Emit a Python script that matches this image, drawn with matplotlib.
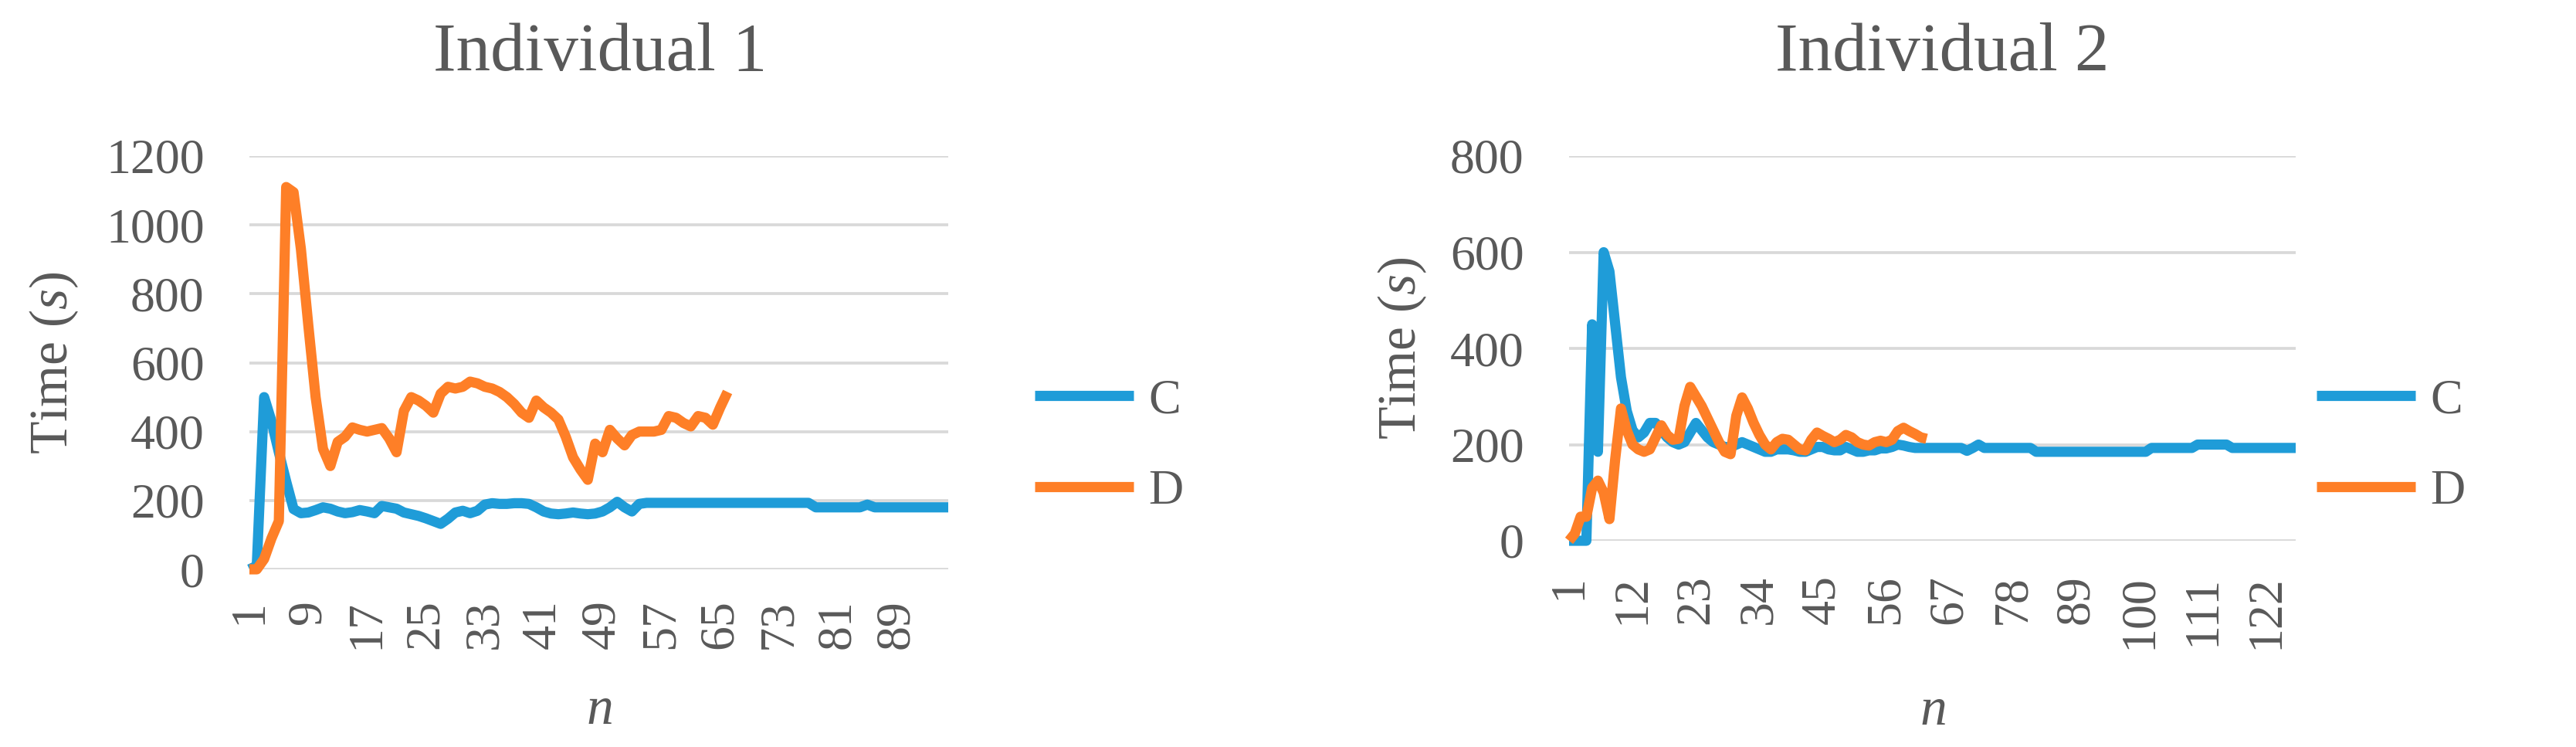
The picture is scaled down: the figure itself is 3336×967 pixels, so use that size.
"""
Two Excel-style line charts: time per trial n for condition C and D.
"""

import matplotlib

matplotlib.use("Agg")
import matplotlib.pyplot as plt
import numpy as np

plt.rcParams["font.family"] = ["Liberation Serif", "DejaVu Serif"]
plt.rcParams["mathtext.fontset"] = "custom"
plt.rcParams["mathtext.rm"] = "Liberation Serif"
plt.rcParams["mathtext.it"] = "Liberation Serif:italic"

TEXT = "#595959"
GRID = "#d9d9d9"
BLUE = "#1f9cd8"
ORANGE = "#fe7f27"

# Individual 1
ind1_c = [
    0, 10, 500, 430, 340, 255, 175, 163, 165, 172,
    180, 176, 168, 163, 166, 172, 168, 163, 184, 180,
    176, 165, 160, 155, 148, 140, 132, 147, 165, 170,
    163, 170, 188, 192, 190, 190, 192, 192, 190, 180,
    168, 162, 160, 162, 165, 162, 160, 162, 168, 180,
    196, 180, 168, 190, 193, 193, 193, 193, 193, 193,
    193, 193, 193, 193, 193, 193, 193, 193, 193, 193,
    193, 193, 193, 193, 193, 193, 193, 180, 180, 180,
    180, 180, 180, 180, 188, 180, 180, 180, 180, 180,
    180, 180, 180, 180, 180, 180,
]
ind1_d = [
    0, 0, 30, 90, 140, 1110, 1095, 930, 710, 500,
    350, 300, 370, 385, 412, 405, 400, 405, 410, 380,
    340, 460, 500, 490, 475, 455, 510, 530, 525, 530,
    545, 540, 530, 525, 515, 500, 480, 455, 440, 490,
    470, 455, 435, 385, 325, 290, 260, 365, 340, 405,
    380, 360, 390, 400, 400, 400, 405, 445, 440, 425,
    415, 445, 440, 420, 470, 515,
]
ind1_ticks = list(range(1, 97, 8))

# Individual 2
ind2_c = [
    0, 0, 0, 0, 450, 185, 600, 560, 450, 340,
    270, 230, 215, 225, 245, 245, 230, 215, 205, 200,
    205, 225, 245, 230, 215, 205, 200, 195, 195, 200,
    205, 200, 195, 190, 185, 185, 190, 190, 190, 188,
    185, 185, 190, 195, 195, 190, 188, 188, 195, 190,
    185, 185, 188, 188, 192, 192, 195, 200, 198, 195,
    193, 193, 193, 193, 193, 193, 193, 193, 193, 187,
    193, 200, 193, 193, 193, 193, 193, 193, 193, 193,
    193, 185, 185, 185, 185, 185, 185, 185, 185, 185,
    185, 185, 185, 185, 185, 185, 185, 185, 185, 185,
    185, 193, 193, 193, 193, 193, 193, 193, 193, 200,
    200, 200, 200, 200, 200, 193, 193, 193, 193, 193,
    193, 193, 193, 193, 193, 193, 193,
]
ind2_d = [
    0, 15, 50, 50, 110, 125, 100, 45, 170, 275,
    230, 200, 190, 185, 190, 215, 240, 220, 210, 212,
    280, 320, 300, 280, 255, 230, 205, 185, 180, 260,
    298, 275, 245, 220, 200, 190, 205, 212, 210, 200,
    190, 188, 210, 225, 218, 212, 205, 210, 220, 215,
    205, 200, 198, 205, 208, 205, 210, 228, 235, 228,
    222, 215, 212,
]
ind2_ticks = list(range(1, 128, 11))

W, H = 3336, 967


def _panel(fig, box, c_vals, d_vals, ticks, ymax, title, title_x, legend_x,
           xpad, ylab_x, xlab_y):
    left, top, right, bottom = box
    ax = fig.add_axes([left / W, 1 - bottom / H, (right - left) / W, (bottom - top) / H])
    n_c = np.arange(1, len(c_vals) + 1)
    n_d = np.arange(1, len(d_vals) + 1)
    ax.plot(n_c, c_vals, color=BLUE, lw=9.5, label="C",
            solid_joinstyle="round", solid_capstyle="butt", clip_on=False, zorder=3)
    ax.plot(n_d, d_vals, color=ORANGE, lw=9.5, label="D",
            solid_joinstyle="round", solid_capstyle="butt", clip_on=False, zorder=4)

    ax.set_xlim(1, len(c_vals))
    ax.set_ylim(0, ymax)
    ax.set_yticks(np.arange(0, ymax + 1, 200))
    ax.set_xticks(ticks)
    ax.set_xticklabels([str(t) for t in ticks], rotation=90, va="top", ha="center")
    ax.grid(axis="y", color=GRID, lw=2.7)
    ax.set_axisbelow(True)
    for s in ax.spines.values():
        s.set_visible(False)
    ax.tick_params(axis="both", length=0, labelsize=46, colors=TEXT)
    ax.tick_params(axis="y", pad=42)
    ax.tick_params(axis="x", pad=xpad)

    ax.set_ylabel("Time ($s$)", fontsize=50, color=TEXT)
    ax.yaxis.set_label_coords(ylab_x, 0.5)
    ax.set_xlabel("$n$", fontsize=50, color=TEXT)
    ax.xaxis.set_label_coords(0.5, xlab_y)

    fig.text(title_x / W, 1 - 70 / H, title, fontsize=64, color=TEXT,
             ha="center", va="center")
    ax.legend(loc="center left", bbox_to_anchor=(legend_x / W, 1 - 578 / H),
              bbox_transform=fig.transFigure, frameon=False, fontsize=45,
              handlelength=2.05, handletextpad=0.3, labelspacing=0.95,
              borderpad=0, borderaxespad=0, labelcolor=TEXT)
    return ax


fig = plt.figure(figsize=(W / 100, H / 100), dpi=100)
_panel(fig, (323, 202, 1228, 737), ind1_c, ind1_d, ind1_ticks, 1200,
       "Individual 1", 777, 1340, 28, -0.242, -0.284)
_panel(fig, (2032, 202, 2973, 700), ind2_c, ind2_d, ind2_ticks, 800,
       "Individual 2", 2515, 3000, 32, -0.193, -0.380)
fig.savefig("out.png", dpi=100)
